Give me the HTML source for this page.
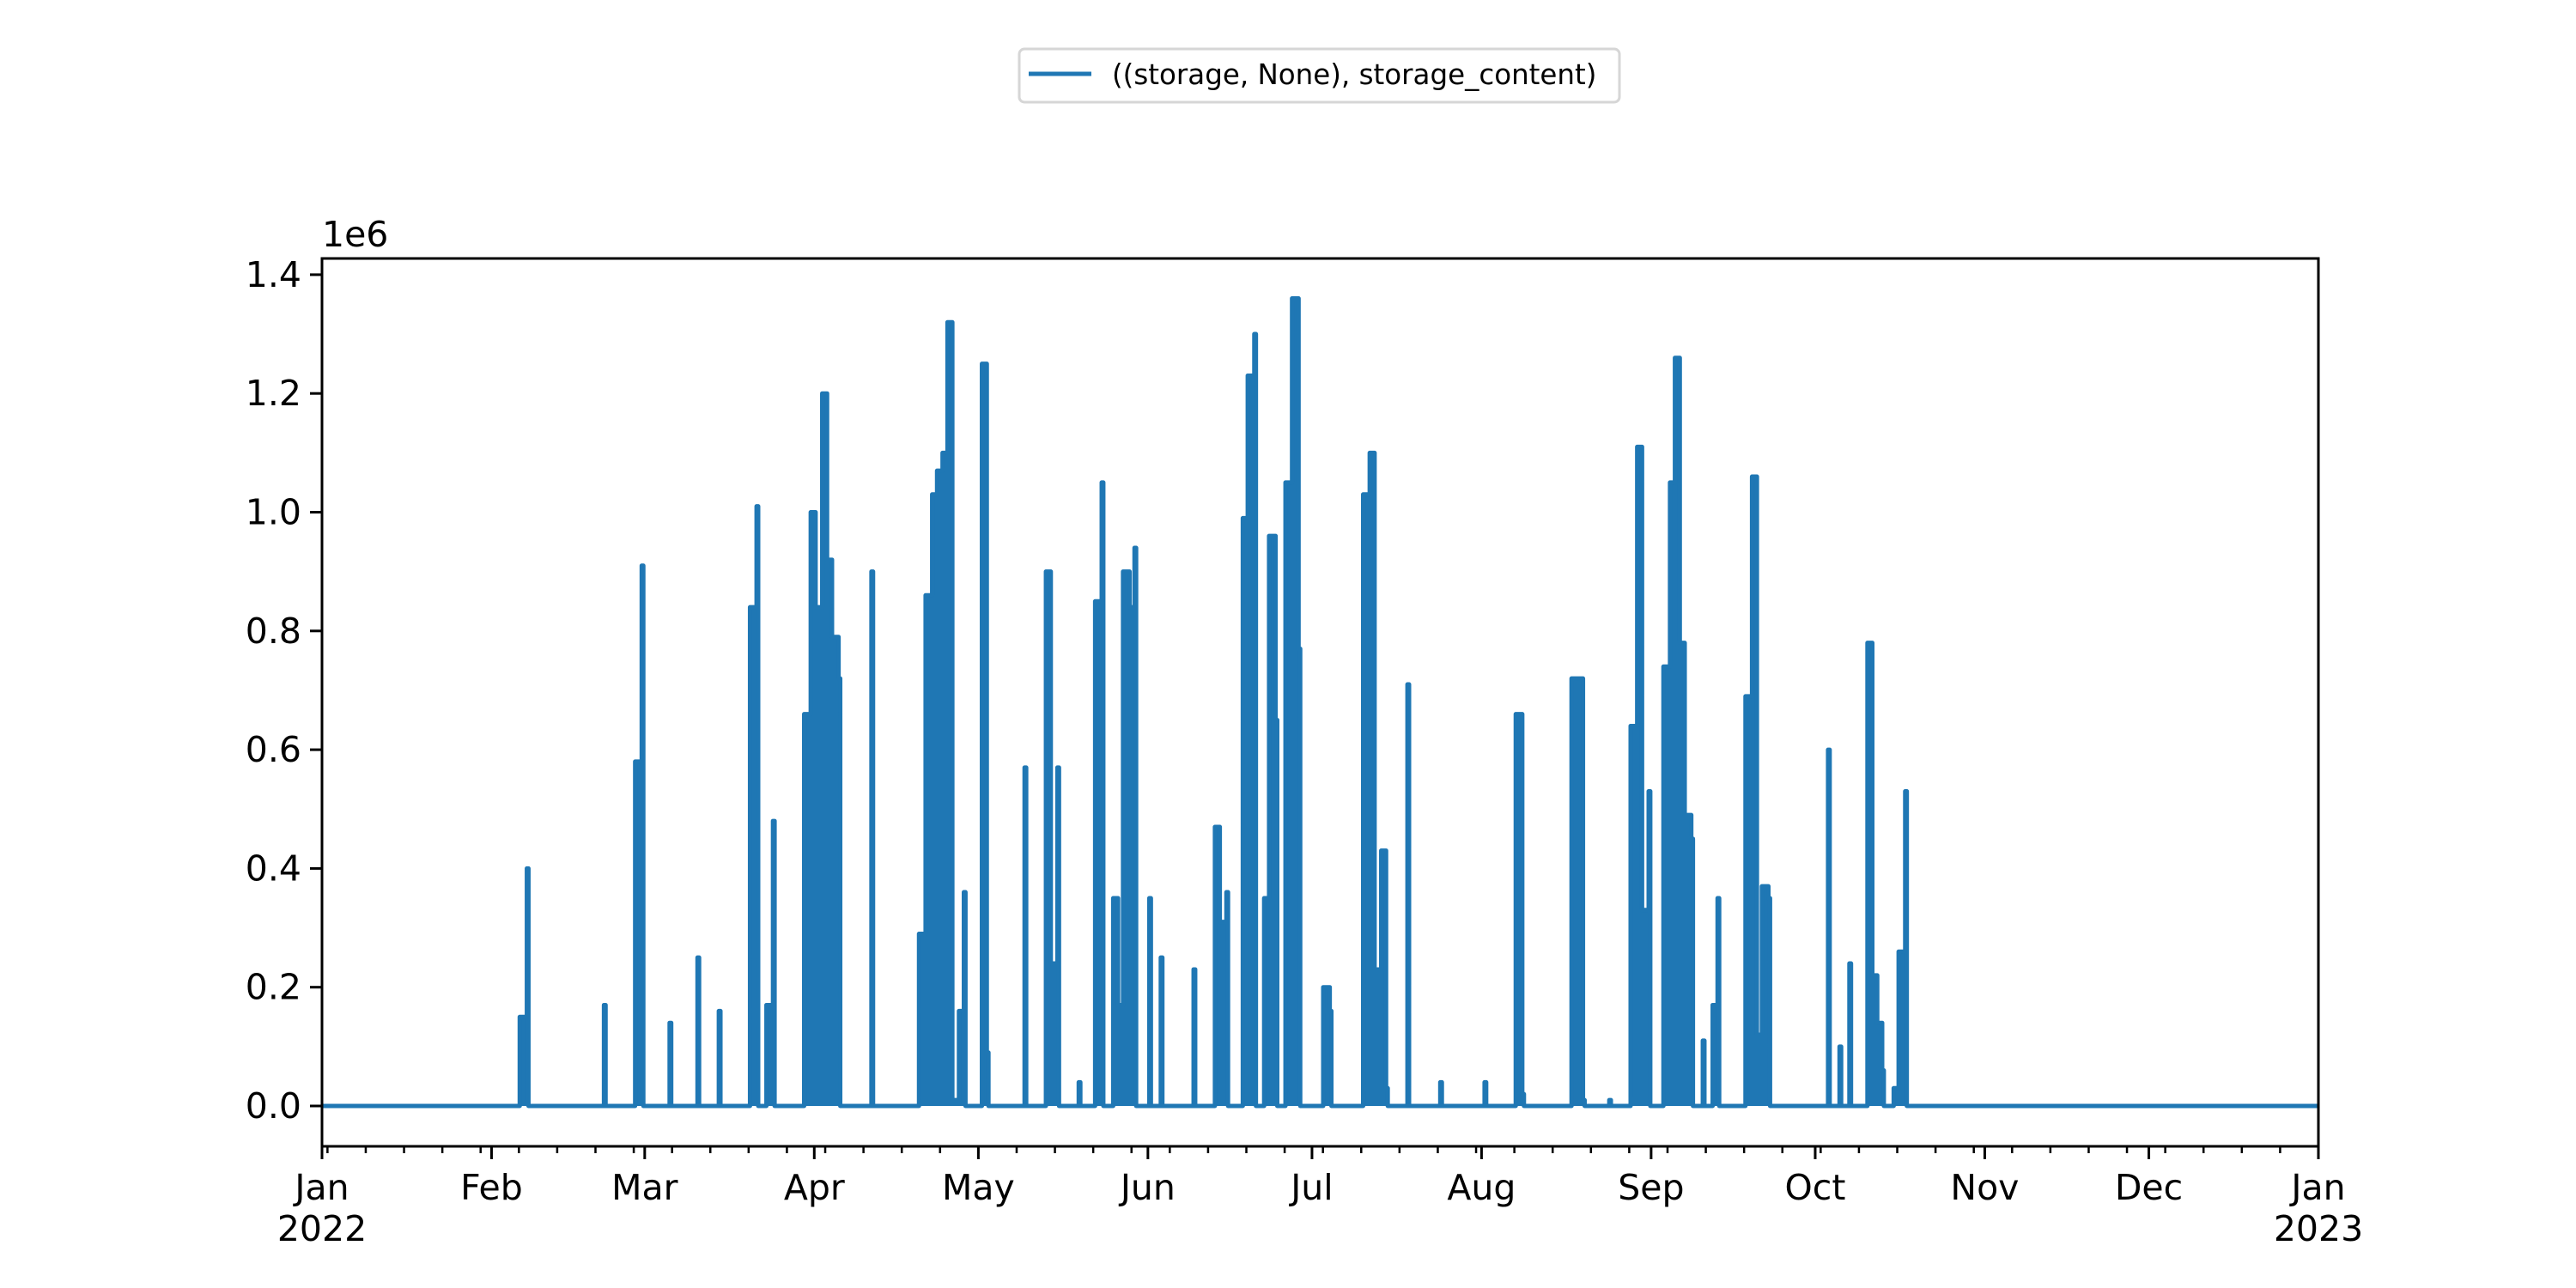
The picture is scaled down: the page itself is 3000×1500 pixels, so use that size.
<!DOCTYPE html>
<html><head><meta charset="utf-8"><style>
html,body{margin:0;padding:0;background:#fff;}
svg{display:block;font-family:"DejaVu Sans","Liberation Sans",sans-serif;}
</style></head><body>
<svg id="chart" width="3000" height="1500" viewBox="0 0 3000 1500" xmlns="http://www.w3.org/2000/svg">
<rect width="3000" height="1500" fill="#fff"/>
<g id="plot"></g>
<g id="axes"></g>
<g>
<rect x="1187" y="57" width="699" height="62" rx="6" fill="#fff" stroke="#d6d6d6" stroke-width="3"/>
<line x1="1198" y1="86" x2="1271" y2="86" stroke="#1f77b4" stroke-width="5"/>
<text x="1295" y="98" font-size="32.5" fill="#000">((storage, None), storage_content)</text>
</g>
</svg>
<script>
const spikeDays = [36.3,37.6,51.7,57.4,58.6,63.7,68.8,72.7,78.4,79.6,81.4,82.6,88.3,89.5,90.4,91.6,92.5,93.4,94.6,100.6,109.3,110.5,111.7,112.6,113.6,114.5,115.4,116.6,117.5,120.8,121.7,128.6,132.5,133.4,134.6,138.5,141.5,142.7,144.8,145.7,146.6,147.8,148.7,151.4,153.5,159.5,163.4,164.3,165.5,168.5,169.4,170.6,172.4,173.3,174.5,176.3,177.5,178.7,183.2,184.4,190.5,191.7,192.6,193.8,194.7,198.6,204.6,212.7,218.4,219.6,228.6,229.8,230.7,235.5,239.4,240.6,241.5,242.7,245.4,246.6,247.5,248.4,249.3,250.5,252.6,254.4,255.3,260.4,261.6,262.5,263.4,264.6,275.5,277.6,279.4,282.7,283.6,284.5,285.4,287.5,288.4,289.6];
const spikeValues = [0.15,0.40,0.17,0.58,0.91,0.14,0.25,0.16,0.84,1.01,0.17,0.48,0.66,1.00,0.84,1.20,0.92,0.79,0.72,0.90,0.29,0.86,1.03,1.07,1.10,1.32,0.01,0.16,0.36,1.25,0.09,0.57,0.90,0.24,0.57,0.04,0.85,1.05,0.35,0.17,0.90,0.84,0.94,0.35,0.25,0.23,0.47,0.31,0.36,0.99,1.23,1.30,0.35,0.96,0.65,1.05,1.36,0.77,0.20,0.16,1.03,1.10,0.23,0.43,0.03,0.71,0.04,0.04,0.66,0.02,0.72,0.72,0.01,0.01,0.64,1.11,0.33,0.53,0.74,1.05,1.26,0.78,0.49,0.45,0.11,0.17,0.35,0.69,1.06,0.12,0.37,0.35,0.60,0.10,0.24,0.78,0.22,0.14,0.06,0.03,0.26,0.53];
const yTicks = [0,0.2,0.4,0.6,0.8,1.0,1.2,1.4];
const yTickLabels = ["0.0","0.2","0.4","0.6","0.8","1.0","1.2","1.4"];
const monthDays = [0,31,59,90,120,151,181,212,243,273,304,334,365];
const monthLabels = ["Jan","Feb","Mar","Apr","May","Jun","Jul","Aug","Sep","Oct","Nov","Dec","Jan"];
const monthSub = {0:"2022",12:"2023"};

const L=375,R=2700,T=301,B=1335,Y0=1288,PX02=138.3;
const NS="http://www.w3.org/2000/svg";
function xs(d){return L+(R-L)*d/365;}
function ys(v){return Y0-v/0.2*PX02;}
function mk(tag,attrs,parent){const e=document.createElementNS(NS,tag);for(const k in attrs)e.setAttribute(k,attrs[k]);parent.appendChild(e);return e;}
const plot=document.getElementById('plot'), axes=document.getElementById('axes');

// series path (step shape, clustered spikes merge into solid blocks)
const w=0.3;
let d="M"+xs(0)+","+ys(0);
let i=0;
while(i<spikeDays.length){
  const a=spikeDays[i]-w/2;
  d+=" L"+xs(a)+","+ys(0)+" L"+xs(a)+","+ys(spikeValues[i]);
  while(i+1<spikeDays.length && spikeDays[i+1]-spikeDays[i]<1.6){
    const nx=spikeDays[i+1]-w/2;
    d+=" L"+xs(nx)+","+ys(spikeValues[i])+" L"+xs(nx)+","+ys(spikeValues[i+1]);
    i++;
  }
  const b=spikeDays[i]+w/2;
  d+=" L"+xs(b)+","+ys(spikeValues[i])+" L"+xs(b)+","+ys(0);
  i++;
}
d+=" L"+xs(365)+","+ys(0);
const p=mk('path',{d:d,fill:"#1f77b4",stroke:"#1f77b4","stroke-width":5,"stroke-linejoin":"round"},plot);



// frame
const fr=mk('rect',{x:L,y:T,width:R-L,height:B-T,fill:"none",stroke:"#000","stroke-width":3},axes);



// y ticks
for(let k=0;k<yTicks.length;k++){
  const y=ys(yTicks[k]);
  const t=mk('line',{x1:L-14,x2:L,y1:y,y2:y,stroke:"#000","stroke-width":3},axes);
  
  
  const tx=mk('text',{x:L-24,y:y+14,"font-size":41,"text-anchor":"end",fill:"#000"},axes);
  tx.textContent=yTickLabels[k];
  
  
}
const off=mk('text',{x:L,y:287,"font-size":41,fill:"#000"},axes);
off.textContent="1e6";



// minor ticks (weekly, Sundays)
for(let dd=1;dd<365;dd+=7){
  const x=xs(dd);
  const t=mk('line',{x1:x,x2:x,y1:B,y2:B+8,stroke:"#000","stroke-width":2.5},axes);
  
  
}
// major ticks
for(let k=0;k<monthDays.length;k++){
  const x=xs(monthDays[k]);
  const t=mk('line',{x1:x,x2:x,y1:B,y2:B+15,stroke:"#000","stroke-width":3},axes);
  
  
  const tx=mk('text',{x:x,y:1397,"font-size":41,"text-anchor":"middle",fill:"#000"},axes);
  tx.textContent=monthLabels[k];
  
  
  if(monthSub[k]){
    const s=mk('text',{x:x,y:1445,"font-size":41,"text-anchor":"middle",fill:"#000"},axes);
    s.textContent=monthSub[k];
    
    
  }
}
</script>
</body></html>
